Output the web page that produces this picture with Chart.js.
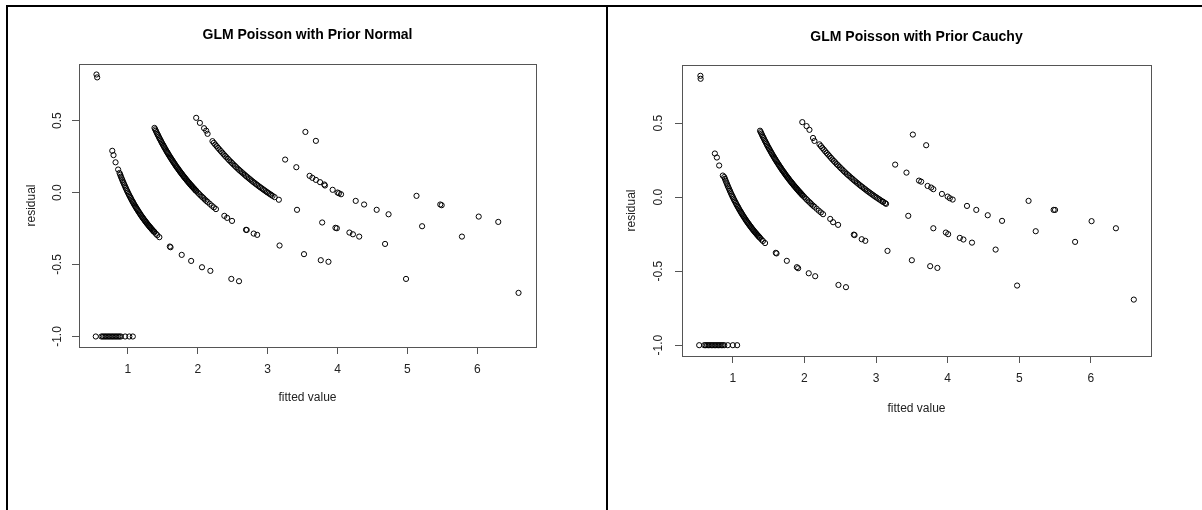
<!DOCTYPE html>
<html>
<head>
<meta charset="utf-8">
<script src="https://cdn.jsdelivr.net/npm/chart.js"></script>
<style>
body { margin: 0; background: #fff; }
#page { position: relative; width: 1202px; height: 510px; overflow: hidden; }
.pane { position: absolute; top: 0; width: 600px; height: 510px; }
.rule { position: absolute; background: #000; }
</style>
</head>
<body>
<div id="page">
  <div class="pane" style="left:0px"><canvas id="normal" width="600" height="510"></canvas></div>
  <div class="pane" style="left:602px"><canvas id="cauchy" width="600" height="510"></canvas></div>
  <div class="rule" style="left:6px;top:5px;width:1196px;height:2px"></div>
  <div class="rule" style="left:6px;top:5px;width:2px;height:505px"></div>
  <div class="rule" style="left:606px;top:5px;width:2px;height:505px"></div>
</div>
<script>
// tick labels
var xTicks = [1, 2, 3, 4, 5, 6];
var yTicks = [-1.0, -0.5, 0.0, 0.5];

// dense bands, same in both fits
var bandOne = [[0.88,0.136],[0.89,0.124],[0.90,0.111],[0.91,0.099],[0.92,0.087],[0.93,0.075],[0.94,0.064],[0.95,0.053],
  [0.96,0.042],[0.97,0.031],[0.98,0.020],[0.99,0.010],[1.00,0.000],[1.01,-0.010],[1.02,-0.020],[1.03,-0.029],
  [1.04,-0.038],[1.05,-0.048],[1.06,-0.057],[1.07,-0.065],[1.08,-0.074],[1.09,-0.083],[1.10,-0.091],[1.11,-0.099],
  [1.12,-0.107],[1.13,-0.115],[1.14,-0.123],[1.15,-0.130],[1.16,-0.138],[1.17,-0.145],[1.18,-0.153],[1.19,-0.160],
  [1.20,-0.167],[1.21,-0.174],[1.22,-0.180],[1.23,-0.187],[1.24,-0.194],[1.25,-0.200],[1.26,-0.206],[1.27,-0.213],
  [1.28,-0.219],[1.29,-0.225],[1.30,-0.231],[1.31,-0.237],[1.32,-0.242],[1.33,-0.248],[1.34,-0.254],[1.35,-0.259],
  [1.36,-0.265],[1.37,-0.270],[1.38,-0.275],[1.40,-0.286],[1.42,-0.296],[1.45,-0.310]];
var bandTwo = [[1.38,0.449],[1.39,0.439],[1.40,0.429],[1.41,0.418],[1.42,0.408],[1.43,0.399],[1.44,0.389],[1.45,0.379],
  [1.46,0.370],[1.47,0.361],[1.48,0.351],[1.49,0.342],[1.50,0.333],[1.51,0.325],[1.52,0.316],[1.53,0.307],
  [1.54,0.299],[1.55,0.290],[1.56,0.282],[1.57,0.274],[1.58,0.266],[1.59,0.258],[1.60,0.250],[1.61,0.242],
  [1.62,0.235],[1.63,0.227],[1.64,0.220],[1.65,0.212],[1.66,0.205],[1.67,0.198],[1.68,0.190],[1.69,0.183],
  [1.70,0.176],[1.71,0.170],[1.72,0.163],[1.73,0.156],[1.74,0.149],[1.75,0.143],[1.76,0.136],[1.77,0.130],
  [1.78,0.124],[1.79,0.117],[1.80,0.111],[1.81,0.105],[1.82,0.099],[1.83,0.093],[1.84,0.087],[1.85,0.081],
  [1.86,0.075],[1.87,0.070],[1.88,0.064],[1.89,0.058],[1.90,0.053],[1.91,0.047],[1.92,0.042],[1.93,0.036],
  [1.94,0.031],[1.95,0.026],[1.96,0.020],[1.97,0.015],[1.98,0.010],[2.00,0.000],[2.02,-0.010],[2.04,-0.020],
  [2.06,-0.029],[2.08,-0.038],[2.10,-0.048],[2.12,-0.057],[2.14,-0.065],[2.17,-0.078],[2.20,-0.091],[2.23,-0.103],
  [2.26,-0.115]];
var bandThree = [[2.21,0.357],[2.23,0.345],[2.25,0.333],[2.27,0.322],[2.29,0.310],[2.31,0.299],[2.33,0.288],[2.35,0.277],
  [2.37,0.266],[2.39,0.255],[2.41,0.245],[2.43,0.235],[2.45,0.224],[2.47,0.215],[2.49,0.205],[2.51,0.195],
  [2.53,0.186],[2.55,0.176],[2.57,0.167],[2.59,0.158],[2.61,0.149],[2.63,0.141],[2.65,0.132],[2.67,0.124],
  [2.69,0.115],[2.71,0.107],[2.73,0.099],[2.75,0.091],[2.77,0.083],[2.79,0.075],[2.81,0.068],[2.83,0.060],
  [2.85,0.053],[2.87,0.045],[2.89,0.038],[2.91,0.031],[2.93,0.024],[2.95,0.017],[2.97,0.010],[2.99,0.003],
  [3.01,-0.003],[3.03,-0.010],[3.05,-0.016],[3.07,-0.023],[3.10,-0.032]];

// prior normal: the scattered points
var normalPts = [[0.55,0.82],[0.56,0.80],
  [0.54,-1],[0.62,-1],[0.64,-1],[0.66,-1],[0.68,-1],[0.70,-1],[0.72,-1],[0.74,-1],[0.76,-1],[0.78,-1],
  [0.80,-1],[0.82,-1],[0.84,-1],[0.86,-1],[0.88,-1],[0.90,-1],[0.96,-1],[1.02,-1],[1.07,-1],
  [0.776,0.29],[0.794,0.26],[0.823,0.21],[0.86,0.16],
  [1.60,-0.375],[1.61,-0.38],[1.77,-0.433],[1.905,-0.475],[2.06,-0.519],[2.18,-0.544],[2.48,-0.60],[2.59,-0.616],
  [2.38,-0.162],[2.42,-0.176],[2.49,-0.197],[2.69,-0.259],[2.70,-0.26],[2.80,-0.285],[2.85,-0.294],[3.17,-0.368],
  [3.52,-0.428],[3.76,-0.47],[3.87,-0.481],[4.98,-0.60],[6.59,-0.697],
  [1.977,0.519],[2.03,0.484],[2.09,0.447],[2.12,0.43],[2.14,0.408],
  [3.16,-0.05],[3.42,-0.12],[3.78,-0.208],[3.97,-0.245],[3.99,-0.248],[4.17,-0.278],[4.22,-0.29],[4.31,-0.306],[4.68,-0.357],
  [3.25,0.229],[3.41,0.176],[3.60,0.116],[3.64,0.102],[3.69,0.088],[3.75,0.072],[3.81,0.056],[3.82,0.049],
  [3.93,0.019],[4.00,0.0],[4.02,-0.005],[4.05,-0.012],[4.26,-0.058],[4.38,-0.083],[4.56,-0.12],[4.73,-0.151],
  [5.21,-0.234],[5.78,-0.306],
  [3.54,0.421],[3.69,0.359],[5.13,-0.023],[5.47,-0.083],[5.49,-0.088],[6.02,-0.167],[6.30,-0.204]];

// prior cauchy: the scattered points
var cauchyPts = [[0.547,0.82],[0.55,0.80],
  [0.53,-1],[0.60,-1],[0.62,-1],[0.64,-1],[0.66,-1],[0.68,-1],[0.70,-1],[0.72,-1],[0.74,-1],[0.76,-1],
  [0.78,-1],[0.80,-1],[0.82,-1],[0.84,-1],[0.86,-1],[0.88,-1],[0.93,-1],[1.00,-1],[1.06,-1],
  [0.749,0.295],[0.777,0.268],[0.809,0.214],[0.86,0.146],
  [1.60,-0.376],[1.61,-0.38],[1.754,-0.43],[1.894,-0.473],[1.912,-0.48],[2.06,-0.514],[2.15,-0.534],[2.475,-0.593],[2.58,-0.608],
  [2.36,-0.147],[2.40,-0.169],[2.47,-0.187],[2.69,-0.253],[2.70,-0.256],[2.80,-0.284],[2.85,-0.295],[3.16,-0.363],
  [3.50,-0.426],[3.756,-0.466],[3.857,-0.478],[4.97,-0.597],[6.60,-0.692],
  [1.97,0.507],[2.03,0.48],[2.07,0.455],[2.12,0.40],[2.14,0.38],
  [3.095,-0.03],[3.127,-0.04],[3.14,-0.045],[3.45,-0.126],[3.80,-0.21],[3.975,-0.239],[4.007,-0.25],[4.17,-0.275],
  [4.22,-0.286],[4.34,-0.307],[4.67,-0.354],
  [3.267,0.22],[3.425,0.166],[3.60,0.112],[3.63,0.105],[3.72,0.076],[3.77,0.065],[3.80,0.054],[3.92,0.022],
  [4.00,0.004],[4.03,-0.007],[4.07,-0.016],[4.27,-0.059],[4.40,-0.086],[4.56,-0.122],[4.76,-0.16],[5.23,-0.23],[5.78,-0.302],
  [3.514,0.423],[3.70,0.351],[5.13,-0.025],[5.48,-0.086],[5.50,-0.086],[6.01,-0.162],[6.35,-0.21]];

var FONT = "'Liberation Sans', Arial, sans-serif";

// R style frame around the plot region
var boxPlugin = {
  id: 'rbox',
  afterDraw: function (chart) {
    var a = chart.chartArea, ctx = chart.ctx;
    ctx.save();
    ctx.strokeStyle = '#555';
    ctx.lineWidth = 1;
    ctx.strokeRect(Math.round(a.left) + 0.5, Math.round(a.top) + 0.5,
      Math.round(a.right - a.left), Math.round(a.bottom - a.top));
    ctx.restore();
  }
};

function toPoints(list) {
  return list.map(function (p) { return { x: p[0], y: p[1] }; });
}

function drawPanel(id, title, pts, g) {
  var data = toPoints(bandOne.concat(bandTwo, bandThree, pts));
  new Chart(document.getElementById(id), {
    type: 'scatter',
    data: { datasets: [{
      data: data,
      pointStyle: 'circle',
      pointRadius: 2.6,
      pointBorderWidth: 1,
      borderColor: '#000',
      backgroundColor: 'rgba(0,0,0,0)'
    }] },
    options: {
      responsive: false,
      animation: false,
      events: [],
      layout: { padding: { left: 0, right: g.padRight, top: 0, bottom: 0 } },
      plugins: {
        legend: { display: false },
        tooltip: { enabled: false },
        title: {
          display: true, text: title, color: '#000', fullSize: false,
          font: { family: FONT, size: 14, weight: 'bold' },
          padding: { top: g.titleTop, bottom: g.titleBottom }
        }
      },
      scales: {
        x: {
          type: 'linear', min: g.xMin, max: g.xMax,
          afterBuildTicks: function (s) { s.ticks = xTicks.map(function (v) { return { value: v }; }); },
          afterFit: function (s) { s.height = g.xHeight; },
          border: { display: false },
          grid: { drawOnChartArea: false, drawTicks: true, tickLength: 7, color: '#555' },
          ticks: { color: '#222', padding: 8, maxRotation: 0, font: { family: FONT, size: 12 },
            callback: function (v) { return String(v); } },
          title: { display: true, text: 'fitted value', color: '#222',
            font: { family: FONT, size: 12 }, padding: { top: 0, bottom: g.xTitlePad } }
        },
        y: {
          type: 'linear', min: -1.073, max: 0.893,
          afterBuildTicks: function (s) { s.ticks = yTicks.map(function (v) { return { value: v }; }); },
          afterFit: function (s) { s.width = g.yWidth; },
          border: { display: false },
          grid: { drawOnChartArea: false, drawTicks: true, tickLength: 7, color: '#555' },
          ticks: { color: '#222', padding: g.yTickPad, minRotation: 90, maxRotation: 90, crossAlign: 'center',
            font: { family: FONT, size: 12 },
            callback: function (v) { return v.toFixed(1); } },
          title: { display: true, text: 'residual', color: '#222',
            font: { family: FONT, size: 12 }, padding: { top: g.yTitlePad, bottom: 0 } }
        }
      }
    },
    plugins: [boxPlugin]
  });
}

drawPanel('normal', 'GLM Poisson with Prior Normal', normalPts, {
  xMin: 0.30, xMax: 6.84, padRight: 64, yWidth: 79, xHeight: 163,
  titleTop: 26.6, titleBottom: 20.6, xTitlePad: 104.8, yTitlePad: 24.8, yTickPad: 3.7
});
drawPanel('cauchy', 'GLM Poisson with Prior Cauchy', cauchyPts, {
  xMin: 0.29, xMax: 6.84, padRight: 51, yWidth: 80, xHeight: 154,
  titleTop: 28.6, titleBottom: 19.6, xTitlePad: 93.8, yTitlePad: 22.8, yTickPad: 5.7
});
</script>
</body>
</html>
